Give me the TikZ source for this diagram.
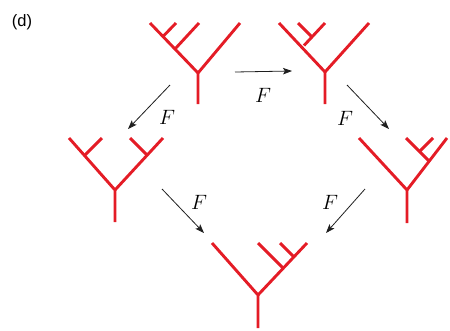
\documentclass[tikz,border=0pt]{standalone}
\usepackage{fontspec}
\setsansfont{Liberation Sans}
\usetikzlibrary{arrows.meta}
\definecolor{treered}{RGB}{228,28,38}
\definecolor{arrowgrey}{RGB}{30,30,30}
\tikzset{
  branch/.style={draw=treered, line width=2.9pt, line join=round},
  maparrow/.style={draw=arrowgrey, line width=0.8pt, -{Stealth[length=9pt,width=6.5pt,inset=2pt]}},
  flabel/.style={inner sep=0pt, font=\fontsize{20}{22}\selectfont},
}
\begin{document}
\begin{tikzpicture}[x=1pt,y=-1pt]
\useasboundingbox (0,0) rectangle (450,330);
\node[inner sep=0pt, font=\sffamily\fontsize{16.5}{18}\selectfont] (tag) at (22,22) {(d)};

% Tree 1: (((a,b),c),d)
\coordinate (t1r) at (198,104);
\coordinate (t1f) at (198,73);
\coordinate (t1a) at (150,23);
\coordinate (t1b) at (176,23);
\coordinate (t1c) at (199,23);
\coordinate (t1d) at (240,23);
\coordinate (t1jc) at (175,49);
\coordinate (t1jb) at (163,36.5);
\draw[branch] (t1r) -- (t1f) -- (t1a);
\draw[branch] (t1f) -- (t1d);
\draw[branch] (t1jc) -- (t1c);
\draw[branch] (t1jb) -- (t1b);

% Tree 2: ((a,(b,c)),d)
\coordinate (t2r) at (325,104);
\coordinate (t2f) at (325,72);
\coordinate (t2a) at (279,23);
\coordinate (t2b) at (298,23);
\coordinate (t2c) at (325,23);
\coordinate (t2d) at (369,23);
\coordinate (t2j) at (304,45.5);
\coordinate (t2jb) at (311.5,36.5);
\draw[branch] (t2r) -- (t2f) -- (t2a);
\draw[branch] (t2f) -- (t2d);
\draw[branch] (t2j) -- (t2c);
\draw[branch] (t2jb) -- (t2b);

% Tree 3: ((a,b),(c,d))
\coordinate (t3r) at (115,222);
\coordinate (t3f) at (115,190);
\coordinate (t3a) at (69,138);
\coordinate (t3b) at (102,138);
\coordinate (t3c) at (130,138);
\coordinate (t3d) at (163,138);
\coordinate (t3jb) at (84.5,155.5);
\coordinate (t3jc) at (147,155);
\draw[branch] (t3r) -- (t3f) -- (t3a);
\draw[branch] (t3f) -- (t3d);
\draw[branch] (t3jb) -- (t3b);
\draw[branch] (t3jc) -- (t3c);

% Tree 4: (a,((b,c),d))
\coordinate (t4r) at (407,223);
\coordinate (t4f) at (407,190);
\coordinate (t4a) at (359,138);
\coordinate (t4b) at (406,138);
\coordinate (t4c) at (433,138);
\coordinate (t4d) at (447,138);
\coordinate (t4j) at (429,161);
\coordinate (t4jc) at (419.5,151.5);
\draw[branch] (t4r) -- (t4f) -- (t4a);
\draw[branch] (t4f) -- (t4d);
\draw[branch] (t4j) -- (t4b);
\draw[branch] (t4jc) -- (t4c);

% Tree 5: (a,(b,(c,d)))
\coordinate (t5r) at (258,328);
\coordinate (t5f) at (258,295);
\coordinate (t5a) at (212,243);
\coordinate (t5b) at (258,243);
\coordinate (t5c) at (280,243);
\coordinate (t5d) at (307,243);
\coordinate (t5jb) at (283,268);
\coordinate (t5jc) at (294,257);
\draw[branch] (t5r) -- (t5f) -- (t5a);
\draw[branch] (t5f) -- (t5d);
\draw[branch] (t5jb) -- (t5b);
\draw[branch] (t5jc) -- (t5c);

% Arrows
\coordinate (a1s) at (235,72);
\coordinate (a1e) at (292,71);
\coordinate (a2s) at (170,85);
\coordinate (a2e) at (128,129);
\coordinate (a3s) at (347,85);
\coordinate (a3e) at (389,129);
\coordinate (a4s) at (162,189);
\coordinate (a4e) at (204,233);
\coordinate (a5s) at (365,189);
\coordinate (a5e) at (326,233);
\draw[maparrow] (a1s) -- (a1e);
\draw[maparrow] (a2s) -- (a2e);
\draw[maparrow] (a3s) -- (a3e);
\draw[maparrow] (a4s) -- (a4e);
\draw[maparrow] (a5s) -- (a5e);

% Labels
\node[flabel] (f1) at (263,95) {$F$};
\node[flabel] (f2) at (167,117) {$F$};
\node[flabel] (f3) at (345,118) {$F$};
\node[flabel] (f4) at (199,202) {$F$};
\node[flabel] (f5) at (330,202) {$F$};
\end{tikzpicture}
\end{document}
